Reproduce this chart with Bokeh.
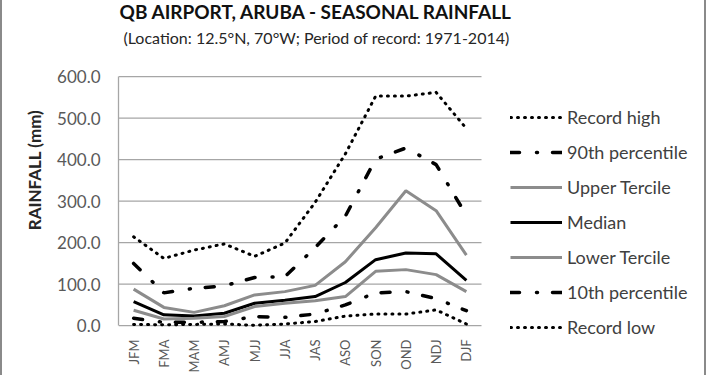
import math
from bokeh.plotting import figure
from bokeh.models import (Range1d, Legend, LegendItem, PrintfTickFormatter,
                          FixedTicker, ColumnDataSource)
from bokeh.core.properties import value
from bokeh.embed import file_html
from bokeh.resources import INLINE

# ---------------- data ----------------
seasons = ["JFM", "FMA", "MAM", "AMJ", "MJJ", "JJA", "JAS", "ASO", "SON", "OND", "NDJ", "DJF"]
record_high = [214, 162, 182, 197, 167, 199, 297, 414, 553, 553, 562, 475]
pct90 = [150, 79, 90, 96, 116, 118, 188, 264, 401, 428, 388, 266]
upper_tercile = [88, 44, 32, 48, 74, 82, 97, 154, 236, 325, 277, 170]
median = [58, 26, 23, 30, 54, 61, 70, 104, 159, 175, 173, 109]
lower_tercile = [37, 16, 18, 22, 46, 54, 60, 70, 131, 135, 123, 82]
pct10 = [18, 8, 8, 10, 22, 20, 28, 50, 79, 82, 65, 36]
record_low = [3, 2, 3, 4, 1, 4, 10, 23, 28, 28, 38, 4]
y_ticks = [0, 100, 200, 300, 400, 500, 600]

title_text = "QB AIRPORT, ARUBA - SEASONAL RAINFALL"
subtitle_text = "(Location: 12.5°N, 70°W; Period of record: 1971-2014)"

FONT = "Lato"
GRAY = "#8c8c8c"
GRID = "#a6a6a6"
BORDER = {"border-left": "2px solid #8a8a8a", "border-right": "2px solid #8a8a8a"}

# ---------------- layout constants (pixels) ----------------
W, H = 706, 375          # canvas (plus 2px border each side)
FRAME_L = 116            # frame left (canvas px)
ZERO_Y = 329             # pixel row of 0 mm
TOP_Y = 77               # pixel row of 600 mm
BOTTOM_Y = 343           # frame bottom
CAT_W = 30.25            # px per season
Y_PX = (ZERO_Y - TOP_Y) / 600.0

n = len(seasons)
xs = [i + 0.5 for i in range(n)]

x_end = (W - FRAME_L) / CAT_W
y_start = -(BOTTOM_Y - ZERO_Y) / Y_PX
y_end = 600 + TOP_Y / Y_PX

p = figure(width=W, height=H, x_range=Range1d(0, x_end),
           y_range=Range1d(y_start, y_end), output_backend="svg", toolbar_location=None,
           min_border_left=FRAME_L, min_border_right=0, min_border_top=0,
           min_border_bottom=H - BOTTOM_Y)
p.outline_line_color = None
p.background_fill_color = "white"
p.border_fill_color = "white"
p.styles = BORDER

# titles (drawn in the plot's own coordinates, above the 600 mm line)
title_x = (316 - 118) / CAT_W
p.text(x=[title_x], y=[600 + (TOP_Y - 11) / Y_PX], text=[title_text],
       text_font=value(FONT), text_font_size="19px", text_font_style="bold",
       text_color="#111111", text_align="center", text_baseline="middle")
p.text(x=[title_x], y=[600 + (TOP_Y - 37) / Y_PX], text=[subtitle_text],
       text_font=value(FONT), text_font_size="16px", text_color="#262626",
       text_align="center", text_baseline="middle")

# horizontal gridlines only across the seasons
p.segment(x0=0, x1=n, y0=y_ticks, y1=y_ticks, line_color=GRID, line_width=1.3)

src = ColumnDataSource(dict(x=xs, rh=record_high, p90=pct90, ut=upper_tercile,
                            md=median, lt=lower_tercile, p10=pct10, rl=record_low))

r_rh = p.line("x", "rh", source=src, line_color="black", line_width=3,
              line_dash="1 6", line_cap="round")
r_p90 = p.line("x", "p90", source=src, line_color="black", line_width=3.5,
               line_dash="9 17 1 15", line_cap="round")
r_ut = p.line("x", "ut", source=src, line_color=GRAY, line_width=3)
r_md = p.line("x", "md", source=src, line_color="black", line_width=3)
r_lt = p.line("x", "lt", source=src, line_color=GRAY, line_width=3)
r_p10 = p.line("x", "p10", source=src, line_color="black", line_width=3.5,
               line_dash="9 17 1 15", line_cap="round")
r_rl = p.line("x", "rl", source=src, line_color="black", line_width=3,
              line_dash="1 6", line_cap="round")

# y axis
p.yaxis.ticker = FixedTicker(ticks=y_ticks)
p.yaxis.bounds = (0, 600)
p.yaxis.formatter = PrintfTickFormatter(format="%.1f")
p.yaxis.major_tick_line_color = None
p.yaxis.minor_tick_line_color = None
p.yaxis.major_tick_out = 0
p.yaxis.major_label_standoff = 18
p.yaxis.axis_line_color = GRID
p.yaxis.axis_line_width = 1.3
p.yaxis.major_label_text_font = FONT
p.yaxis.major_label_text_font_size = "17px"
p.yaxis.major_label_text_color = "#595959"
p.yaxis.axis_label = "RAINFALL (mm)"
p.yaxis.axis_label_text_font = FONT
p.yaxis.axis_label_text_font_size = "17px"
p.yaxis.axis_label_text_font_style = "bold"
p.yaxis.axis_label_text_color = "#262626"
p.yaxis.axis_label_standoff = 9

# x axis (season names at the centre of each season slot)
p.xaxis.ticker = FixedTicker(ticks=xs)
p.xaxis.major_label_overrides = {x: s for x, s in zip(xs, seasons)}
p.xaxis.major_label_orientation = math.pi / 2
p.xaxis.major_tick_line_color = None
p.xaxis.minor_tick_line_color = None
p.xaxis.major_tick_out = 0
p.xaxis.major_tick_in = 0
p.xaxis.major_label_standoff = 0
p.xaxis.axis_line_color = None
p.xaxis.major_label_text_font = FONT
p.xaxis.major_label_text_font_size = "13px"
p.xaxis.major_label_text_color = "#595959"

p.xgrid.grid_line_color = None
p.ygrid.grid_line_color = None

legend = Legend(items=[
    LegendItem(label="Record high", renderers=[r_rh]),
    LegendItem(label="90th percentile", renderers=[r_p90]),
    LegendItem(label="Upper Tercile", renderers=[r_ut]),
    LegendItem(label="Median", renderers=[r_md]),
    LegendItem(label="Lower Tercile", renderers=[r_lt]),
    LegendItem(label="10th percentile", renderers=[r_p10]),
    LegendItem(label="Record low", renderers=[r_rl]),
], location=(392, 1))
legend.padding = 0
legend.margin = 0
legend.spacing = 13
legend.label_height = 20
legend.glyph_height = 20
legend.glyph_width = 52
legend.label_standoff = 5
legend.border_line_color = None
legend.background_fill_alpha = 0
legend.label_text_font = FONT
legend.label_text_font_size = "18px"
legend.label_text_color = "#404040"
p.add_layout(legend)

open("out.html", "w").write(file_html(p, INLINE))
